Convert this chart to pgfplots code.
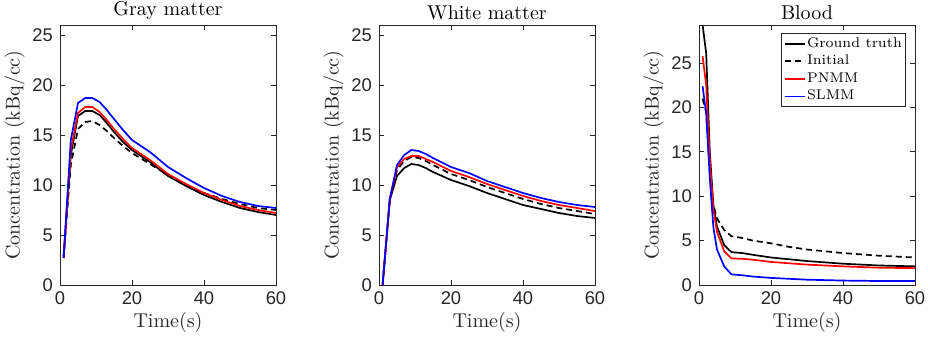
\documentclass[border=0pt]{standalone}
\usepackage{fontspec}
\newfontfamily\ticksans{Liberation Sans}
\usepackage{pgfplots}
\pgfplotsset{compat=1.18}
\definecolor{axgray}{rgb}{0.15,0.15,0.15}
\pgfplotsset{
  myax/.style={
    width=108pt, height=130pt, scale only axis,
    anchor=south west,
    xmin=0, xmax=60,
    xtick={0,20,40,60},
    tick align=inside,
    major tick length=2.5pt,
    axis line style={axgray, line width=0.4pt},
    every tick/.style={axgray, line width=0.4pt},
    tick label style={font=\ticksans\fontsize{9.2}{11}\selectfont, text=axgray},
    /pgf/number format/assume math mode=true,
    xlabel={Time(s)},
    ylabel={Concentration (kBq/cc)},
    label style={font=\fontsize{10}{12}\selectfont, text=axgray},
    xlabel style={yshift=3pt},
    ylabel style={yshift=-3pt},
    title style={font=\fontsize{10}{12}\selectfont, inner sep=0pt, yshift=-3.5pt},
  },
}
\begin{document}
\begin{tikzpicture}
\path[use as bounding box] (0,0) rectangle (464pt,172pt);
% Gray matter
\begin{axis}[myax, at={(30pt,29.5pt)}, ymin=0, ymax=26, ytick={0,5,10,15,20,25}, title={Gray matter}]
\addplot[black, line width=0.85pt, dash pattern=on 3pt off 2pt] coordinates {(1,2.7)(3,12.0)(5,15.6)(7,16.3)(9,16.4)(11,16.0)(13,15.4)(15,14.7)(17.5,13.9)(20,13.2)(25,12.1)(30,11.0)(35,10.0)(40,9.2)(45,8.6)(50,8.1)(55,7.7)(60,7.5)};
\addplot[black, line width=0.85pt] coordinates {(1,2.7)(3,13.0)(5,16.9)(7,17.4)(9,17.4)(11,17.0)(13,16.2)(15,15.3)(17.5,14.3)(20,13.5)(25,12.3)(30,10.9)(35,9.9)(40,9.0)(45,8.3)(50,7.7)(55,7.3)(60,7.0)};
\addplot[red, line width=0.85pt] coordinates {(1,2.7)(3,13.5)(5,17.2)(7,17.8)(9,17.8)(11,17.3)(13,16.5)(15,15.6)(17.5,14.6)(20,13.7)(25,12.5)(30,11.1)(35,10.1)(40,9.2)(45,8.5)(50,7.9)(55,7.5)(60,7.2)};
\addplot[blue, line width=0.85pt] coordinates {(1,2.7)(3,14.5)(5,18.2)(7,18.7)(9,18.7)(11,18.3)(13,17.5)(15,16.6)(17.5,15.5)(20,14.5)(25,13.3)(30,11.8)(35,10.7)(40,9.7)(45,8.9)(50,8.3)(55,7.9)(60,7.7)};
\end{axis}
% White matter
\begin{axis}[myax, at={(189.5pt,29.5pt)}, ymin=0, ymax=26, ytick={0,5,10,15,20,25}, title={White matter}]
\addplot[black, line width=0.85pt, dash pattern=on 3pt off 2pt] coordinates {(1,0)(3,8.5)(5,11.5)(7,12.4)(9,12.8)(11,12.7)(13,12.4)(15,12.0)(20,11.1)(25,10.5)(30,9.8)(35,9.2)(40,8.6)(45,8.1)(50,7.7)(55,7.4)(60,7.1)};
\addplot[black, line width=0.85pt] coordinates {(1,0)(3,8.5)(5,10.9)(7,11.7)(9,12.1)(11,12.0)(13,11.7)(15,11.3)(20,10.5)(25,9.9)(30,9.2)(35,8.6)(40,8.0)(45,7.6)(50,7.2)(55,6.9)(60,6.7)};
\addplot[red, line width=0.85pt] coordinates {(1,0)(3,8.6)(5,11.8)(7,12.6)(9,12.9)(11,12.9)(13,12.6)(15,12.3)(20,11.4)(25,10.8)(30,10.1)(35,9.5)(40,8.9)(45,8.4)(50,8.0)(55,7.7)(60,7.4)};
\addplot[blue, line width=0.85pt] coordinates {(1,0)(3,8.6)(5,12.0)(7,13.0)(9,13.5)(11,13.4)(13,13.1)(15,12.7)(20,11.8)(25,11.2)(30,10.4)(35,9.8)(40,9.2)(45,8.7)(50,8.3)(55,8.0)(60,7.8)};
\end{axis}
% Blood
\begin{axis}[myax, at={(349.5pt,29.5pt)}, ymin=0, ymax=29.3, ytick={0,5,10,15,20,25}, title={Blood},
  legend style={at={(0.958,0.969)}, anchor=north east, draw=axgray,
    font=\fontsize{7}{8}\selectfont, inner sep=1pt, row sep=0.6pt,
    nodes={inner sep=0.8pt, text height=5pt, text depth=1.6pt, text=black}},
  legend cell align=left]
\addlegendimage{legend image code/.code={\draw[black, line width=0.85pt] (0pt,0pt) -- (10pt,0pt);}}
\addlegendentry{\textcolor{black}{Ground truth}}
\addlegendimage{legend image code/.code={\draw[black, line width=0.85pt, dash pattern=on 3pt off 2pt] (0pt,0pt) -- (10pt,0pt);}}
\addlegendentry{\textcolor{black}{Initial}}
\addlegendimage{legend image code/.code={\draw[red, line width=0.85pt] (0pt,0pt) -- (10pt,0pt);}}
\addlegendentry{\textcolor{black}{PNMM}}
\addlegendimage{legend image code/.code={\draw[blue, line width=0.85pt] (0pt,0pt) -- (10pt,0pt);}}
\addlegendentry{\textcolor{black}{SLMM}}
\addplot[black, line width=0.85pt, forget plot] coordinates {(1,29.3)(2,26.1)(3,15.0)(4,9.0)(5,6.6)(7,4.5)(9,3.7)(12,3.6)(15,3.4)(20,3.1)(25,2.9)(30,2.7)(40,2.4)(50,2.2)(60,2.1)};
\addplot[black, line width=0.85pt, dash pattern=on 3pt off 2pt, forget plot] coordinates {(1,21.0)(2,19.5)(3,13.0)(4,9.0)(5,7.5)(7,6.2)(9,5.5)(12,5.3)(15,5.0)(20,4.7)(25,4.3)(30,4.0)(40,3.6)(50,3.3)(60,3.1)};
\addplot[red, line width=0.85pt, forget plot] coordinates {(1,25.8)(2,22.5)(3,14.0)(4,8.5)(5,6.0)(7,3.8)(9,3.0)(12,2.95)(15,2.85)(20,2.6)(25,2.45)(30,2.3)(40,2.1)(50,1.95)(60,1.9)};
\addplot[blue, line width=0.85pt, forget plot] coordinates {(1,22.4)(2,19.3)(3,12.0)(4,6.5)(5,4.0)(7,2.1)(9,1.2)(12,1.1)(15,0.95)(20,0.8)(25,0.7)(30,0.6)(40,0.5)(50,0.45)(60,0.45)};
\end{axis}
\end{tikzpicture}
\end{document}
